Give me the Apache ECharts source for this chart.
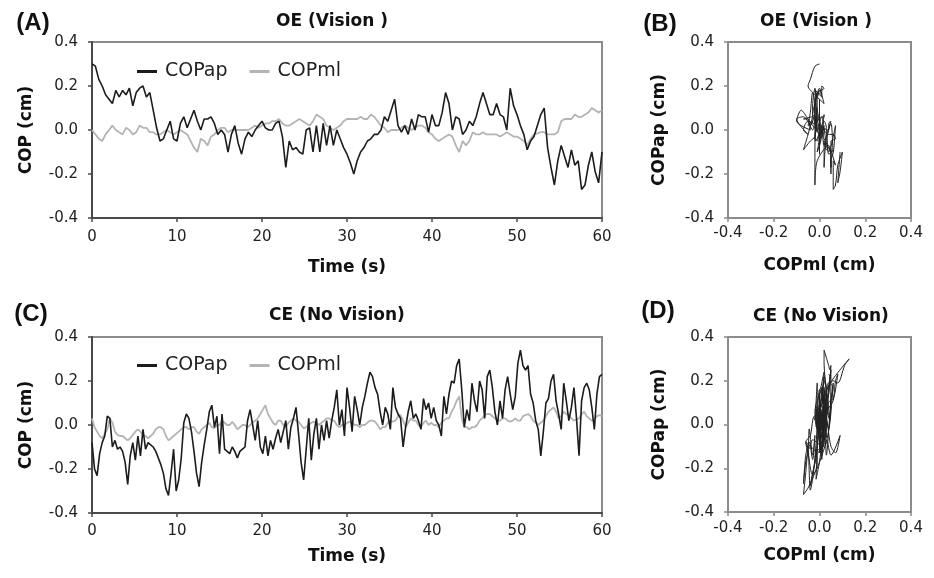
<!DOCTYPE html>
<html>
<head>
<meta charset="utf-8">
<title>COP sway</title>
<script src="https://cdn.jsdelivr.net/npm/echarts@6/dist/echarts.min.js"></script>
<style>
    html, body {margin: 0; padding: 0; background: #fff;}
    #chart {width: 934px; height: 578px;}
</style>
</head>
<body>
<div id="chart"></div>
<script>
//---------------------------Data---------------------------
//panel A: eyes open, one sample every 0.4 s (0..60 s)
let stepA = 0.4;
let apOE = [
    0.30, 0.29, 0.23, 0.20, 0.16, 0.14, 0.12, 0.18, 0.15, 0.18,
    0.16, 0.19, 0.11, 0.17, 0.19, 0.20, 0.15, 0.17, 0.09, 0.01,
    -0.05, -0.04, 0.00, 0.04, -0.04, -0.05, 0.03, 0.06, 0.01, 0.05,
    0.09, 0.04, 0.00, 0.05, 0.05, 0.06, 0.03, -0.02, 0.00, -0.02,
    -0.10, -0.02, 0.02, -0.06, -0.11, -0.04, -0.01, -0.03, 0.00, 0.02,
    0.04, 0.01, 0.00, 0.00, 0.03, 0.04, -0.03, -0.17, -0.05, -0.09,
    -0.08, -0.10, -0.11, 0.00, 0.01, -0.10, 0.02, -0.10, 0.03, -0.07,
    0.02, -0.07, 0.00, -0.04, -0.08, -0.11, -0.15, -0.20, -0.14, -0.10,
    -0.08, -0.05, -0.04, -0.02, -0.02, 0.00, 0.06, 0.04, 0.09, 0.14,
    0.02, -0.01, 0.02, -0.02, 0.05, 0.00, 0.07, 0.06, 0.06, -0.01,
    0.07, 0.02, 0.02, 0.08, 0.17, 0.12, 0.00, 0.06, 0.05, -0.02,
    0.00, 0.04, 0.02, 0.06, 0.12, 0.17, 0.12, 0.07, 0.07, 0.12,
    0.07, 0.06, 0.00, 0.19, 0.11, 0.07, 0.02, -0.02, -0.09, -0.05,
    -0.03, 0.02, 0.07, 0.10, -0.08, -0.17, -0.25, -0.14, -0.07, -0.12,
    -0.17, -0.09, -0.16, -0.14, -0.27, -0.25, -0.16, -0.10, -0.19, -0.24,
    -0.10
];
let mlOE = [
    0.00, -0.02, -0.04, -0.05, -0.02, 0.00, 0.02, 0.00, -0.01, -0.02,
    0.01, 0.00, -0.02, -0.01, 0.02, 0.01, 0.01, -0.01, -0.01, -0.02,
    -0.02, -0.01, 0.00, -0.01, -0.02, -0.01, 0.00, -0.01, -0.02, -0.05,
    -0.08, -0.10, -0.04, -0.05, -0.07, -0.03, -0.02, 0.00, 0.01, 0.01,
    -0.01, 0.00, 0.00, 0.00, 0.00, 0.00, 0.00, 0.01, 0.02, 0.01,
    0.02, 0.03, 0.03, 0.04, 0.04, 0.05, 0.03, 0.02, 0.02, 0.03,
    0.04, 0.05, 0.04, 0.03, 0.02, 0.04, 0.07, 0.06, 0.05, 0.02,
    0.01, 0.00, 0.01, 0.02, 0.04, 0.05, 0.05, 0.05, 0.05, 0.06,
    0.05, 0.05, 0.07, 0.06, 0.04, 0.02, 0.01, -0.01, 0.00, 0.00,
    0.00, 0.01, 0.02, 0.01, 0.00, 0.01, 0.02, 0.02, 0.01, -0.01,
    -0.02, -0.04, -0.05, -0.04, -0.03, -0.02, -0.03, -0.07, -0.10, -0.05,
    -0.07, -0.05, -0.01, -0.02, -0.02, -0.01, -0.02, -0.02, -0.02, -0.02,
    -0.03, -0.02, -0.01, -0.02, -0.03, -0.03, -0.04, -0.05, -0.07, -0.04,
    -0.02, -0.015, -0.01, -0.01, -0.02, -0.02, -0.02, -0.01, 0.04, 0.05,
    0.05, 0.05, 0.07, 0.06, 0.06, 0.07, 0.08, 0.10, 0.09, 0.08,
    0.09
];

//panel C: eyes closed, one sample every 0.3 s (0..60 s)
let stepC = 0.3;
let apCE = [
    -0.08, -0.20, -0.23, -0.13, -0.08, -0.05, 0.04, 0.03, -0.10, -0.07,
    -0.11, -0.10, -0.12, -0.17, -0.27, -0.14, -0.08, -0.16, -0.05, -0.14,
    -0.02, -0.11, -0.08, -0.09, -0.10, -0.12, -0.15, -0.18, -0.22, -0.29,
    -0.32, -0.22, -0.11, -0.30, -0.25, -0.15, 0.01, 0.05, 0.03, -0.03,
    -0.12, -0.22, -0.28, -0.17, -0.09, -0.02, 0.06, 0.09, -0.01, 0.04,
    -0.13, 0.05, -0.11, -0.12, -0.13, -0.10, -0.12, -0.15, -0.12, -0.11,
    -0.10, 0.02, 0.07, 0.00, -0.07, 0.02, -0.10, -0.13, -0.05, -0.14,
    -0.07, -0.11, -0.06, -0.02, -0.08, -0.03, 0.02, -0.11, -0.01, 0.03,
    0.08, -0.04, -0.17, -0.25, -0.11, 0.03, -0.16, -0.04, 0.03, -0.11,
    0.00, -0.07, 0.02, -0.06, 0.02, 0.08, 0.16, 0.00, 0.07, -0.05,
    0.17, 0.08, -0.03, 0.13, 0.07, 0.00, 0.08, 0.13, 0.19, 0.24,
    0.22, 0.17, 0.14, 0.06, 0.00, 0.08, 0.05, -0.02, 0.17, 0.08,
    0.05, 0.03, -0.10, -0.01, 0.06, 0.11, 0.03, 0.05, 0.02, -0.02,
    0.12, 0.07, 0.10, 0.03, 0.08, 0.02, 0.00, -0.05, 0.13, 0.05,
    0.14, 0.20, 0.19, 0.27, 0.30, 0.16, -0.01, 0.07, 0.02, 0.19,
    0.11, 0.06, 0.20, 0.16, 0.03, 0.22, 0.25, 0.17, 0.06, 0.00,
    0.11, 0.03, 0.16, 0.22, 0.14, 0.07, 0.13, 0.28, 0.34, 0.27,
    0.25, 0.27, 0.14, 0.10, 0.02, -0.02, -0.14, -0.03, 0.10, 0.12,
    0.20, 0.23, 0.11, 0.05, -0.02, 0.19, 0.11, 0.02, 0.08, 0.17,
    0.03, -0.14, 0.11, 0.17, 0.19, 0.16, 0.08, -0.02, 0.14, 0.22,
    0.23
];
let mlCE = [
    0.03, -0.01, -0.03, -0.05, -0.06, -0.04, -0.02, 0.03, 0.01, -0.03,
    -0.045, -0.05, -0.05, -0.06, -0.07, -0.06, -0.045, -0.03, -0.02, -0.03,
    -0.045, -0.05, -0.06, -0.05, -0.04, -0.02, -0.01, -0.01, -0.02, -0.05,
    -0.07, -0.06, -0.05, -0.04, -0.03, -0.02, -0.01, -0.01, -0.02, -0.01,
    -0.01, -0.03, -0.04, -0.02, -0.01, 0.00, 0.01, -0.01, -0.015, 0.00,
    0.00, 0.02, 0.01, 0.00, 0.00, 0.015, 0.00, -0.02, -0.01, 0.00,
    0.00, -0.01, 0.00, 0.01, 0.02, 0.03, 0.05, 0.07, 0.09, 0.05,
    0.03, 0.01, 0.00, 0.02, 0.02, 0.00, -0.01, 0.01, 0.02, 0.03,
    0.02, 0.015, 0.00, -0.015, -0.01, 0.00, 0.01, 0.015, 0.01, 0.00,
    0.01, 0.02, 0.03, 0.03, 0.02, 0.02, 0.00, -0.01, 0.00, 0.00,
    0.01, 0.015, 0.01, 0.00, 0.00, -0.01, 0.00, 0.00, 0.01, 0.02,
    0.02, 0.015, 0.00, -0.02, -0.01, -0.01, 0.01, 0.02, 0.015, 0.02,
    0.04, 0.045, 0.02, -0.01, 0.01, 0.03, 0.02, 0.02, 0.00, -0.01,
    0.01, 0.02, 0.00, 0.01, 0.00, 0.00, -0.01, 0.01, 0.02, 0.03,
    0.03, 0.06, 0.08, 0.11, 0.13, 0.03, -0.01, -0.01, -0.02, -0.01,
    -0.01, 0.00, 0.02, 0.03, 0.045, 0.05, 0.05, 0.04, 0.03, 0.02,
    0.02, 0.03, 0.03, 0.02, 0.015, 0.02, 0.03, 0.02, 0.02, 0.04,
    0.045, 0.05, 0.04, 0.02, 0.01, 0.00, 0.01, 0.02, 0.04, 0.06,
    0.07, 0.08, 0.06, 0.03, 0.04, 0.06, 0.05, 0.045, 0.03, 0.02,
    0.025, 0.03, 0.05, 0.06, 0.04, 0.03, 0.02, 0.025, 0.04, 0.045,
    0.04
];

//axis ticks
let timeTicks = [0, 10, 20, 30, 40, 50, 60];
let copTicks = [-0.4, -0.2, 0.0, 0.2, 0.4];

//labels
let legendNames = ['COPap', 'COPml'];
let panelTitles = ['OE (Vision )', 'OE (Vision )', 'CE (No Vision)', 'CE (No Vision)'];
let panelTags = ['(A)', '(B)', '(C)', '(D)'];

//---------------------------UI---------------------------
let chart = echarts.init(document.getElementById('chart'), null, {renderer: 'canvas'});

let tickFont = 'DejaVu Sans';
let boldFont = 'DejaVu Sans';
let darkAxis = '#4a4a4a';
let lightAxis = '#8c8c8c';
let apColor = '#1c1c1c';
let mlColor = '#b4b4b4';

function fmt(v) {
    if (Math.abs(v) < 1e-9) return '0.0';
    return v.toFixed(1);
}

function timeData(arr, step) {
    let out = [];
    for (let i = 0; i < arr.length; i++) {
        out.push([+(i * step).toFixed(2), arr[i]]);
    }
    return out;
}

function pathData(ml, ap) {
    let out = [];
    for (let i = 0; i < ap.length; i++) {
        out.push([ml[i], ap[i]]);
    }
    return out;
}

function valueAxis(grid, lo, hi, step, opts) {
    let ax = {
        type: 'value', gridIndex: grid, min: lo, max: hi, interval: step,
        splitLine: {show: false},
        axisLine: {show: true, onZero: false, lineStyle: {color: opts.lineColor, width: 2}},
        axisTick: {show: true, inside: false, length: 4, lineStyle: {color: opts.lineColor, width: 1.5}},
        axisLabel: {
            color: '#222', fontFamily: tickFont, fontSize: 15, margin: opts.margin,
            formatter: opts.fmt
        },
        name: opts.name, nameLocation: 'middle', nameGap: opts.nameGap,
        nameTextStyle: {color: '#111', fontFamily: boldFont, fontWeight: 'bold', fontSize: 17}
    };
    return ax;
}

function init() {
    let grids = [
        {left: 92, top: 42, width: 510, height: 176},
        {left: 728, top: 42, width: 183, height: 176},
        {left: 92, top: 337, width: 510, height: 176},
        {left: 728, top: 337, width: 183, height: 175}
    ];
    for (let i = 0; i < grids.length; i++) {
        grids[i].show = true;
        grids[i].borderColor = lightAxis;
        grids[i].borderWidth = 2;
        grids[i].backgroundColor = '#fff';
    }

    let tFmt = function (v) { return String(v); };

    let xAxes = [
        valueAxis(0, timeTicks[0], timeTicks[timeTicks.length - 1], 10, {lineColor: darkAxis, margin: 12, fmt: tFmt, name: 'Time (s)', nameGap: 41}),
        valueAxis(1, copTicks[0], copTicks[copTicks.length - 1], 0.2, {lineColor: lightAxis, margin: 8, fmt: fmt, name: 'COPml (cm)', nameGap: 39}),
        valueAxis(2, timeTicks[0], timeTicks[timeTicks.length - 1], 10, {lineColor: darkAxis, margin: 11, fmt: tFmt, name: 'Time (s)', nameGap: 35}),
        valueAxis(3, copTicks[0], copTicks[copTicks.length - 1], 0.2, {lineColor: lightAxis, margin: 9, fmt: fmt, name: 'COPml (cm)', nameGap: 35})
    ];
    let yAxes = [
        valueAxis(0, copTicks[0], copTicks[copTicks.length - 1], 0.2, {lineColor: darkAxis, margin: 14, fmt: fmt, name: 'COP (cm)', nameGap: 57}),
        valueAxis(1, copTicks[0], copTicks[copTicks.length - 1], 0.2, {lineColor: lightAxis, margin: 14, fmt: fmt, name: 'COPap (cm)', nameGap: 60}),
        valueAxis(2, copTicks[0], copTicks[copTicks.length - 1], 0.2, {lineColor: darkAxis, margin: 14, fmt: fmt, name: 'COP (cm)', nameGap: 57}),
        valueAxis(3, copTicks[0], copTicks[copTicks.length - 1], 0.2, {lineColor: lightAxis, margin: 14, fmt: fmt, name: 'COPap (cm)', nameGap: 60})
    ];

    let lineBase = {type: 'line', showSymbol: false, symbol: 'none', animation: false, silent: true};

    let series = [
        Object.assign({}, lineBase, {name: legendNames[1], xAxisIndex: 0, yAxisIndex: 0, data: timeData(mlOE, stepA),
            lineStyle: {color: mlColor, width: 1.8}, itemStyle: {color: mlColor}}),
        Object.assign({}, lineBase, {name: legendNames[0], xAxisIndex: 0, yAxisIndex: 0, data: timeData(apOE, stepA),
            lineStyle: {color: apColor, width: 1.6}, itemStyle: {color: apColor}}),
        Object.assign({}, lineBase, {name: 'OE path', xAxisIndex: 1, yAxisIndex: 1, data: pathData(mlOE, apOE), smooth: 0.3,
            lineStyle: {color: '#222', width: 1}}),
        Object.assign({}, lineBase, {name: legendNames[1], xAxisIndex: 2, yAxisIndex: 2, data: timeData(mlCE, stepC),
            lineStyle: {color: mlColor, width: 1.8}, itemStyle: {color: mlColor}}),
        Object.assign({}, lineBase, {name: legendNames[0], xAxisIndex: 2, yAxisIndex: 2, data: timeData(apCE, stepC),
            lineStyle: {color: apColor, width: 1.6}, itemStyle: {color: apColor}}),
        Object.assign({}, lineBase, {name: 'CE path', xAxisIndex: 3, yAxisIndex: 3, data: pathData(mlCE, apCE), smooth: 0.3,
            lineStyle: {color: '#222', width: 1}})
    ];

    //legend: short flat bar in place of the line+symbol icon
    let legendBase = {
        data: [
            {name: legendNames[0], icon: 'rect', itemStyle: {color: apColor}},
            {name: legendNames[1], icon: 'rect', itemStyle: {color: mlColor}}
        ],
        orient: 'horizontal', itemWidth: 20, itemHeight: 3, itemGap: 22,
        selectedMode: false,
        textStyle: {color: '#222', fontFamily: tickFont, fontSize: 19, padding: [0, 0, 0, 3]}
    };
    let legends = [
        Object.assign({}, legendBase, {left: 132, top: 57}),
        Object.assign({}, legendBase, {left: 132, top: 351})
    ];

    //titles & panel tags
    let titleX = [332, 816, 337, 821];
    let titleY = [22, 22, 316, 317];
    let tagX = [33, 660, 31, 658];
    let tagY = [23, 24, 314, 311];
    let graphics = [];
    for (let i = 0; i < 4; i++) {
        graphics.push({
            type: 'text', x: titleX[i], y: titleY[i], silent: true,
            style: {text: panelTitles[i], fill: '#111', font: 'bold 17px "' + boldFont + '"', textAlign: 'center', textVerticalAlign: 'middle'}
        });
        graphics.push({
            type: 'text', x: tagX[i], y: tagY[i], silent: true,
            style: {text: panelTags[i], fill: '#111', font: 'bold 24px "Liberation Sans"', textAlign: 'center', textVerticalAlign: 'middle'}
        });
    }

    let option = {
        backgroundColor: '#fff',
        animation: false,
        grid: grids,
        xAxis: xAxes,
        yAxis: yAxes,
        legend: legends,
        series: series,
        graphic: graphics
    };
    chart.setOption(option);
}

init();
</script>
</body>
</html>
